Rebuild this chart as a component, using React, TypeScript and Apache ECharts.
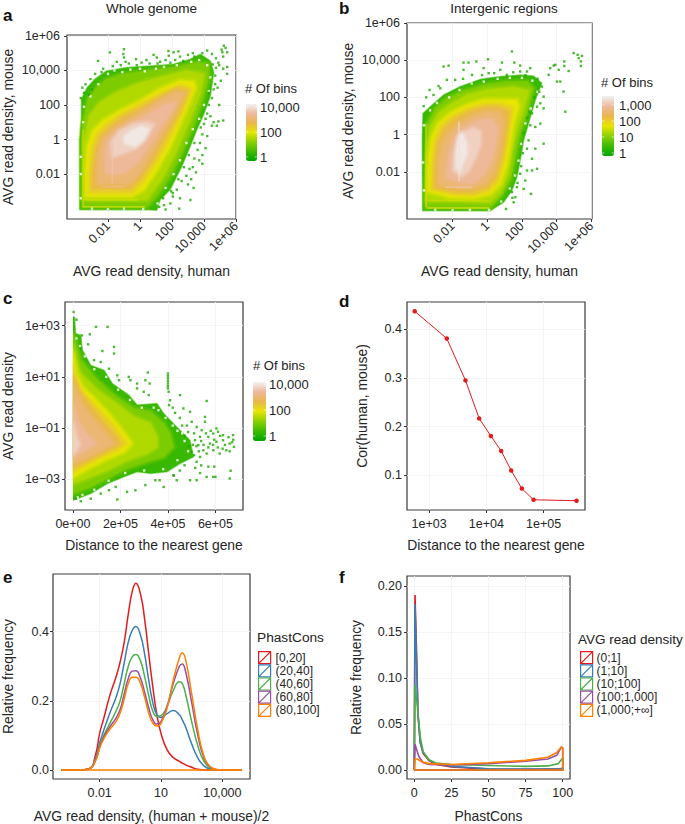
import React, { useEffect, useRef } from "react";
import * as echarts from "echarts";

const FONT = "Liberation Sans";
const INK = "#262626";
const DOT = "#1FA800";
const TERRAIN = ["#00A600", "#3EBB00", "#8BD000", "#E6E600", "#EAB64E", "#EEB99F", "#F2F2F2"];

// ---- Panel a: density contours, [log10 human, log10 mouse], with log10(# of bins) per contour
const A_LEVELS = [0.4, 1.09, 1.55, 2.01, 2.38, 2.75, 3.13, 3.5, 3.87, 4.2, 1.8, 2.0, 1.9, 3.7, 3.5];
const A_CONTOURS: number[][][] = [
  [[-3.77,-4.07],[0.42,-4.07],[1.05,-4.1],[1.26,-3.49],[1.88,-2.91],[2.62,-1.55],[3.14,-0.39],[3.56,0.58],[3.98,1.45],[4.4,2.52],[4.61,3.88],[4.4,4.55],[3.77,4.94],[3.14,4.65],[2.09,4.36],[0.63,4.26],[-0.84,4.17],[-2.09,3.97],[-2.83,3.49],[-3.31,3.0],[-3.66,2.33],[-3.66,1.16],[-3.77,0]],
  [[-3.6,-3.88],[0.42,-3.91],[1.05,-3.29],[1.88,-2.13],[2.62,-0.78],[3.25,0.58],[3.87,2.13],[4.29,3.49],[4.29,4.36],[3.56,4.46],[2.09,4.17],[0.42,3.97],[-1.05,3.78],[-2.09,3.49],[-2.72,3.0],[-3.25,2.33],[-3.56,0.97],[-3.64,0]],
  [[-3.52,-3.49],[0.42,-3.49],[1.47,-2.13],[2.3,-0.58],[3.04,0.97],[3.77,2.71],[3.98,3.78],[2.93,3.97],[1.26,3.59],[-0.21,3.2],[-1.47,2.71],[-2.51,2.13],[-3.14,1.36],[-3.46,0]],
  [[-3.39,-3.29],[-0.52,-3.29],[0.21,-2.91],[1.05,-1.74],[1.88,-0.39],[2.72,1.36],[3.46,3.0],[3.35,3.33],[2.51,3.39],[1.26,2.91],[0,2.23],[-1.26,1.65],[-2.3,1.07],[-2.93,0.48],[-3.25,-0.39],[-3.39,-1.94]],
  [[-3.14,-3.06],[-0.52,-3.06],[0.1,-2.52],[0.94,-1.36],[1.78,0],[2.62,1.55],[3.18,2.91],[2.51,3.14],[1.26,2.62],[0,2.03],[-1.15,1.45],[-2.09,0.87],[-2.68,0.29],[-2.99,-0.58],[-3.14,-1.94]],
  [[-2.93,-2.81],[-0.63,-2.81],[0,-2.23],[0.84,-1.07],[1.57,0.19],[2.41,1.65],[2.93,2.81],[2.3,2.91],[1.26,2.42],[0,1.74],[-1.05,1.26],[-1.88,0.68],[-2.41,0.19],[-2.72,-0.58],[-2.89,-1.74]],
  [[-2.62,-2.52],[-0.73,-2.56],[-0.1,-2.03],[0.63,-0.87],[1.36,0.29],[2.2,1.65],[2.72,2.62],[2.2,2.71],[1.26,2.23],[0.1,1.55],[-0.94,0.97],[-1.78,0.48],[-2.26,0],[-2.55,-0.78]],
  [[-2.09,-1.94],[-1.05,-1.94],[-0.21,-1.36],[0.52,-0.39],[1.15,0.58],[1.88,1.55],[2.2,2.13],[1.47,1.94],[0.42,1.36],[-0.63,0.87],[-1.47,0.39],[-1.99,-0.19],[-2.14,-0.97]],
  [[-1.68,-0.97],[-1.05,-0.78],[-0.21,-0.48],[0.42,0.19],[0.84,0.87],[0.42,0.97],[-0.42,0.87],[-1.26,0.48],[-1.78,-0.19]],
  [[-0.94,-0.19],[-0.31,-0.35],[0.21,0],[0.52,0.58],[0.1,0.72],[-0.52,0.48],[-0.94,0.19]],
  [[-3.6,-3.9],[-3.5,-3.9],[-3.5,0.6],[-3.6,0.6]],
  [[-3.6,-3.95],[0.3,-3.95],[0.3,-3.85],[-3.6,-3.85]],
  [[-3.4,-3.55],[-0.1,-3.55],[-0.1,-3.45],[-3.4,-3.45]],
  [[-1.78,-2.5],[-1.68,-2.5],[-1.68,0.2],[-1.78,0.2]],
  [[-2.4,-2.78],[-0.9,-2.78],[-0.9,-2.68],[-2.4,-2.68]],
];
const A_SOFT = 10;
const A_DOTS = [[-1.88,5.04],[-1,5.23],[-1.04,4.95],[-1,4.75],[-1.45,4.5],[-0.25,4.65],[-0.7,4.4],[-2.62,4.55],[-0.2,4.3],[0.4,4.6],[0.85,4.9],[1.05,4.75],[1.26,4.5],[1.78,5.12],[1.8,4.85],[2.1,5.05],[2.4,5.1],[2.5,4.8],[2.2,4.6],[1.6,4.6],[3,4.9],[3.3,5],[3.9,5],[4.2,5.15],[4.5,4.95],[4.75,4.7],[4.9,4.45],[5.2,4.8],[5.24,5.43],[5.35,5.3],[5.1,5.2],[5.45,5.05],[5.15,5.05],[5.45,4.2],[5.45,3.8],[4.95,4.3],[5.2,4.1],[4.75,4.15],[4.7,3.7],[5.05,3.4],[4.85,3],[4.6,2.9],[4.3,2.7],[4.95,2],[5.2,1.1],[4.9,1.05],[4.6,1],[4.8,0.8],[4.4,1.35],[4.2,1.5],[4.5,0.8],[4,0.9],[4.2,0.2],[3.9,0.3],[3.75,-0.2],[4.1,-0.5],[3.6,-0.6],[3.9,-0.9],[3.4,-1.1],[3.7,-1.2],[3.9,-1.4],[3.3,-1.6],[3.5,-1.9],[3.1,-1.7],[2.9,-2.1],[3.2,-2.3],[3,-2.6],[3.35,-2.8],[2.6,-2.4],[2.3,-2.9],[3.15,-3.5],[2.5,-3.4],[2.45,-4],[2.05,-3.3],[1.9,-3.7],[1.5,-3.8],[1.6,-4.05],[1.2,-3.9],[2.05,-3.1],[-3.6,3],[-3.4,3.2],[-3.1,3.5],[-2.8,3.8],[-2.4,3.9],[-3.5,2.7],[-3.2,2.6],[-3,2.9],[-3.7,2.4],[-2.3,4.1],[-1.7,4.25],[-1.2,4.3],[-0.9,4.5],[0.1,4.45],[0.6,4.4],[1.1,4.4],[1.9,4.45],[2.7,4.55],[3.4,4.8],[4.55,4.35],[4.7,3.2],[4.5,2.4],[4.3,2],[4.1,1.2],[3.8,0.7],[3.4,-0.2],[3.05,-0.9],[2.75,-1.6],[2.4,-2.3],[1.95,-3],[1.45,-3.4]];
const A_GAPS = [[-2,3.8],[-1.6,4],[-1.1,3.9],[-0.6,4.05],[0,4.1],[0.3,3.95],[1,4.1],[1.5,4.2],[2.3,4.3],[3.2,4.5],[3.7,4.6],[4.2,4.3],[4.4,3.6],[4.3,2.8],[4,2],[3.7,1.2],[3.3,0.6],[2.9,-0.2],[2.5,-1.2],[2.1,-2],[1.6,-2.8],[1.1,-3.7],[0.2,-4.02],[-1,-4],[-2,-4.03],[-3,-4],[-3.7,-3.4],[-3.7,-2],[-3.7,-1],[-3.55,1],[-3.5,1.9],[-3.1,2.5],[-2.6,3.2]];

// ---- Panel b
const B_LEVELS = [0.36, 0.92, 1.3, 1.68, 1.98, 2.28, 2.58, 2.88, 3.18, 3.45, 1.6, 1.7, 1.5, 3.35, 3.1];
const B_CONTOURS: number[][][] = [
  [[-3.73,-4.09],[0.17,-4.09],[0.94,-3.64],[1.42,-3.01],[1.71,-2.29],[1.9,-1.39],[2.1,-0.31],[2.38,0.59],[2.77,1.86],[3.15,2.76],[2.67,3.15],[1.9,3.21],[0.75,3.12],[-0.4,2.97],[-1.56,2.58],[-2.52,2.13],[-3.29,1.5],[-3.71,1.14],[-3.75,-0.31]],
  [[-3.58,-3.91],[0.17,-3.95],[0.75,-3.37],[1.33,-2.47],[1.62,-1.21],[1.9,0.05],[2.29,1.14],[2.67,2.49],[2.29,2.85],[1.13,2.85],[-0.21,2.67],[-1.37,2.36],[-2.33,1.95],[-3,1.41],[-3.44,0.59]],
  [[-3.52,-3.55],[0.17,-3.64],[0.75,-3.1],[1.23,-2.11],[1.42,-0.85],[1.71,0.23],[2.1,1.32],[2.38,2.36],[1.52,2.54],[-0.02,2.4],[-1.17,2.13],[-2.04,1.68],[-2.81,1.14],[-3.29,0.41],[-3.44,-0.67]],
  [[-3.42,-3.05],[-2.13,-3.37],[-0.79,-3.41],[0.17,-3.19],[0.75,-2.65],[1.13,-1.57],[1.33,-0.49],[1.52,0.59],[1.81,1.5],[1.71,1.86],[0.94,1.86],[-0.21,1.86],[-1.17,1.59],[-2.13,1.14],[-2.81,0.59],[-3.19,-0.13],[-3.38,-1.39]],
  [[-3.19,-2.92],[-1.94,-3.19],[-0.79,-3.23],[0.08,-3.01],[0.6,-2.47],[0.94,-1.39],[1.13,-0.31],[1.29,0.59],[1.42,1.41],[0.75,1.64],[-0.21,1.62],[-1.17,1.35],[-2.04,0.95],[-2.62,0.45],[-3,-0.31],[-3.15,-1.57]],
  [[-3,-2.83],[-1.75,-3.05],[-0.79,-3.05],[-0.02,-2.79],[0.46,-2.29],[0.79,-1.21],[0.98,-0.31],[1.13,0.59],[1.19,1.23],[0.56,1.46],[-0.21,1.41],[-1.08,1.17],[-1.85,0.77],[-2.42,0.32],[-2.81,-0.4],[-2.96,-1.57]],
  [[-2.77,-2.65],[-1.56,-2.83],[-0.79,-2.83],[-0.12,-2.61],[0.37,-1.93],[0.65,-1.03],[0.79,-0.13],[0.9,0.59],[0.75,1.14],[-0.02,1.21],[-0.88,0.95],[-1.65,0.5],[-2.23,0.05],[-2.58,-0.58],[-2.75,-1.57]],
  [[-2.33,-2.29],[-1.56,-2.56],[-0.79,-2.56],[-0.21,-2.11],[0.21,-1.39],[0.46,-0.49],[0.56,0.32],[0.27,0.81],[-0.4,0.77],[-1.08,0.5],[-1.65,0.14],[-2.04,-0.49],[-2.27,-1.39]],
  [[-1.94,-1.93],[-1.46,-2.2],[-1.08,-1.93],[-0.69,-1.21],[-0.4,-0.49],[-0.4,0.14],[-0.79,0.32],[-1.27,0.14],[-1.65,-0.31],[-1.9,-1.12]],
  [[-1.75,-1.75],[-1.6,-1.93],[-1.46,-1.57],[-1.21,-1.03],[-1.21,-0.49],[-1.46,0.05],[-1.65,-0.13],[-1.75,-0.85]],
  [[-3.58,-3.9],[-3.48,-3.9],[-3.48,0.6],[-3.58,0.6]],
  [[-3.5,-4.0],[0.1,-4.0],[0.1,-3.9],[-3.5,-3.9]],
  [[-3.4,-3.6],[0,-3.6],[0,-3.5],[-3.4,-3.5]],
  [[-1.68,-2.5],[-1.58,-2.5],[-1.58,0.7],[-1.68,0.7]],
  [[-2.4,-2.88],[-0.9,-2.88],[-0.9,-2.78],[-2.4,-2.78]],
];
const B_SOFT = 10;
const B_DOTS = [[1.42,4.47],[4.98,4.38],[5.21,4.29],[5.46,4.23],[5.27,4.11],[5.4,3.93],[5.4,3.69],[3.63,3.57],[3.83,3.71],[3.92,3.75],[4.12,3.48],[4.44,3.93],[4.44,3.69],[4.69,3.42],[-2.23,3.71],[-2.52,3.66],[-1.37,3.87],[-1.08,3.87],[-0.63,3.93],[0.04,4.05],[0.85,3.87],[1.56,3.87],[1.9,3.71],[2.48,3.57],[0.75,3.48],[-0.21,3.57],[0.08,3.3],[-1.37,3.48],[1.9,3.39],[2.29,3.39],[1.13,3.21],[3.54,3.21],[4.02,2.85],[4.21,2.85],[4.4,2.31],[4.5,1.23],[3.15,2.58],[3.25,2.04],[3.06,1.68],[2.87,1.5],[3.25,1.41],[2.58,1.14],[3.06,0.59],[2.77,0.41],[2.48,0.5],[3.25,-0.49],[2.77,-0.76],[2.38,-0.31],[2.29,-0.76],[2.58,-1.3],[2.87,-1.84],[2.58,-1.93],[2.29,-1.93],[2.19,-2.47],[2.52,-3.19],[2.1,-2.92],[1.62,-3.37],[1.52,-3.64],[1.08,-4],[1.42,-3.1],[1.71,-2.83],[1.9,-2.11],[-2.81,2.61],[-3.33,2.4],[-3.52,2],[-3.1,2.13],[-3.67,1.53],[-2.71,2.49],[-2.33,2.94],[-1.85,2.94],[-0.88,3.21],[-1.4,3],[-0.3,3.2],[0.4,3.3],[1.5,3.35],[2.2,3.2],[2.9,3],[3,2.3],[2.7,2],[2.45,1.2],[2.3,0.9],[2.1,0.1],[2.05,-1],[1.95,-1.7],[1.75,-2.6],[1.45,-3.4]];
const B_GAPS = [[-2.2,2],[-1.6,2.4],[-0.9,2.75],[-0.2,2.85],[0.6,3],[1.3,3.05],[2,3.05],[2.6,2.9],[2.9,2.3],[2.5,1.4],[2.2,0.6],[1.95,-0.5],[1.8,-1.4],[1.6,-2.2],[1.3,-2.9],[0.8,-3.6],[0.1,-4.05],[-1,-4.05],[-2,-4.07],[-3,-4.05],[-3.65,-3],[-3.7,-1.5],[-3.65,0.5],[-3.3,1.3],[-2.9,1.7]];

// ---- Panel c: [distance / 1e5, log10 density]
const C_LEVELS = [0.37, 1.05, 1.51, 1.96, 2.32, 2.69, 3.05, 3.41, 3.78];
const C_CONTOURS: number[][][] = [
  [[0,3.34],[0.07,3.34],[0.11,2.69],[0.33,2.62],[0.4,2.04],[0.75,1.45],[1.31,1.26],[1.66,0.74],[2.35,0.29],[2.7,-0.1],[3.54,-0.04],[3.82,-0.43],[4.37,-0.95],[4.93,-1.47],[5.07,-2.12],[4.51,-2.38],[3.96,-2.7],[3.26,-2.77],[2.7,-2.7],[2.14,-2.9],[1.45,-3.16],[0.75,-3.55],[0,-3.81]],
  [[0,2.69],[0.13,2.3],[0.33,1.65],[1.03,0.87],[1.73,0.29],[2.56,-0.23],[3.26,-0.36],[3.82,-0.82],[4.09,-1.21],[4.23,-1.73],[3.82,-2.12],[3.12,-2.31],[2.28,-2.57],[1.45,-2.96],[0.75,-3.29],[0,-3.55]],
  [[0,2.17],[0.13,1.65],[0.33,1.13],[1.03,0.48],[1.73,0.03],[2.56,-0.56],[3.26,-0.82],[3.54,-1.34],[3.54,-1.73],[3.12,-1.99],[2.28,-2.25],[1.45,-2.64],[0.75,-2.9],[0,-3.16]],
  [[0,1.91],[0.13,1.13],[0.4,0.61],[1.03,0.03],[1.73,-0.69],[2.28,-1.34],[2.47,-1.6],[2.14,-1.92],[1.45,-2.18],[0.75,-2.51],[0,-2.9]],
  [[0,1.39],[0.13,0.87],[0.47,0.29],[1.03,-0.23],[1.66,-0.88],[2.14,-1.47],[2.21,-1.6],[1.87,-1.83],[1.31,-2.05],[0.61,-2.38],[0,-2.7]],
  [[0,1],[0.26,0.42],[0.68,-0.1],[1.17,-0.69],[1.73,-1.27],[1.94,-1.6],[1.59,-1.79],[1.03,-2.05],[0.47,-2.31],[0,-2.51]],
  [[0,0.74],[0.26,0.09],[0.68,-0.49],[1.17,-1.01],[1.59,-1.47],[1.73,-1.6],[1.31,-1.79],[0.75,-2.05],[0.26,-2.25],[0,-2.38]],
  [[0,-0.04],[0.19,-0.69],[0.54,-1.21],[0.96,-1.6],[0.61,-1.79],[0.26,-1.99],[0,-2.12]],
  [[0,-0.82],[0.13,-1.34],[0.26,-1.6],[0.13,-1.86],[0,-1.99]],
];
const C_SOFT = 9;
const C_DOTS = [[0.03,3.53],[0.15,3.23],[0.97,2.95],[1.46,2.95],[0.71,2.66],[0.38,2.62],[0.64,2.27],[0.33,2.1],[1.24,2.01],[1.73,2.17],[1.73,1.91],[0.89,1.65],[1.17,1.58],[1.52,1.32],[1.87,1.06],[1.94,0.87],[2.35,1],[2.42,0.87],[2.7,0.74],[2.7,0.55],[3.15,1.17],[3.05,0.87],[3.23,0.74],[2.98,0.42],[3.19,0.29],[4,1.13],[4,1.03],[4,0.94],[4,0.84],[4,0.74],[4,0.64],[4,0.55],[4.03,0.42],[4.51,0.29],[4.09,0.09],[5.63,0.06],[5.56,-0.56],[5.56,-0.75],[4.65,-0.23],[4.93,-0.36],[5.21,-0.95],[5.42,-1.08],[6.04,-1.01],[6.11,-1.14],[6.32,-1.27],[6.74,-1.27],[5.91,-1.21],[5.7,-1.34],[5.35,-1.34],[5.14,-1.47],[5.28,-1.66],[5.49,-1.86],[5.77,-1.6],[6.04,-1.53],[6.32,-1.47],[6.6,-1.6],[6.78,-1.73],[6.46,-1.86],[6.18,-1.99],[5.91,-1.86],[5.63,-1.99],[5.35,-2.12],[5.21,-2.31],[5,-1.92],[5.1,-1.2],[5.2,-1.7],[5.4,-1.5],[5.6,-1.2],[5.8,-1.1],[5.95,-1.45],[6.2,-1.3],[6.4,-1.65],[6.55,-1.35],[6.7,-1.55],[5.5,-1.65],[5.7,-1.75],[5.9,-1.65],[6.1,-1.75],[6.3,-1.8],[6.6,-1.9],[6.75,-1.45],[5.3,-1.9],[5.05,-1.65],[4.9,-1.7],[4.7,-1.3],[4.6,-0.9],[4.8,-0.9],[5,-0.75],[4.85,-1.15],[4.5,-0.6],[4.3,-0.4],[4.05,-0.1],[4.2,-0.2],[5.1,-2.05],[5.4,-2.45],[5.7,-2.5],[5.95,-2.5],[5.15,-2.55],[4.7,-2.45],[4.5,-2.65],[4.25,-2.85],[5.35,-2.75],[1.87,-3.78],[0.75,-3.75],[0.33,-3.85],[0.12,-3.75],[1.17,-3.55],[1.52,-3.42],[1.8,-3.29],[2.28,-3.48],[2.63,-3.42],[3.05,-3.22],[3.47,-3.03],[3.82,-3.29],[3.65,-3.03],[4.23,-2.83],[4.37,-3.03],[4.93,-3.03],[5.21,-3.03],[5.91,-2.9],[6.6,-2.96],[6.64,-2.66],[5.63,-2.9],[6,-2.9]];
const C_GAPS = [[0.5,1.8],[0.9,1.3],[1.4,1],[1.9,0.5],[2.4,0.1],[2.9,-0.2],[3.4,-0.2],[3.9,-0.6],[4.4,-1.1],[4.7,-1.5],[4.85,-1.9],[4.4,-2.25],[3.8,-2.6],[3,-2.65],[2.2,-2.75],[1.5,-3.05],[0.9,-3.4],[0.4,-3.6],[0.2,-3.7],[0.3,2.2],[0.15,2.5],[4.6,-1.2],[4.2,-0.9],[3.6,-0.3],[2.7,0.1]];

// ---- Panel d
const D_DISTANCE = [562, 2040, 4325, 7500, 12000, 18200, 27200, 41700, 66800, 377000];
const D_COR = [0.437, 0.381, 0.295, 0.217, 0.181, 0.15, 0.11, 0.073, 0.05, 0.048];

// ---- Panel e: x is log10 of AVG read density
const E_X = [-3.87,-3,-2.5,-2.2,-2,-1.8,-1.5,-1.2,-1,-0.8,-0.6,-0.4,-0.23,0,0.2,0.4,0.6,0.8,1,1.3,1.6,1.9,2.04,2.2,2.5,2.8,3.1,3.4,3.7,4,4.95];
const E_0_20 = [0,0,0.004,0.044,0.106,0.149,0.216,0.269,0.312,0.369,0.451,0.518,0.54,0.508,0.436,0.336,0.24,0.159,0.106,0.058,0.036,0.025,0.02,0.015,0.008,0.002,0,0,0,0,0];
const E_20_40 = [0,0,0.004,0.035,0.078,0.115,0.165,0.21,0.25,0.31,0.37,0.405,0.415,0.39,0.335,0.26,0.195,0.16,0.152,0.163,0.172,0.16,0.145,0.125,0.075,0.035,0.012,0.003,0,0,0];
const E_40_60 = [0,0,0.004,0.03,0.07,0.1,0.135,0.17,0.2,0.25,0.3,0.328,0.334,0.315,0.27,0.215,0.17,0.155,0.157,0.185,0.23,0.255,0.25,0.22,0.14,0.07,0.025,0.006,0.001,0,0];
const E_60_80 = [0,0,0.004,0.028,0.065,0.095,0.125,0.15,0.175,0.22,0.265,0.286,0.287,0.265,0.225,0.18,0.145,0.133,0.14,0.185,0.25,0.3,0.307,0.285,0.195,0.1,0.035,0.009,0.001,0,0];
const E_80_100 = [0,0,0.004,0.027,0.063,0.09,0.118,0.14,0.165,0.205,0.25,0.268,0.268,0.25,0.21,0.165,0.135,0.127,0.135,0.18,0.26,0.325,0.339,0.32,0.22,0.115,0.04,0.01,0.002,0,0];
const E_BASELINE = [[-3.87,0],[4.95,0]];
const E_NAMES = ["[0,20]", "(20,40]", "(40,60]", "(60,80]", "(80,100]"];

// ---- Panel f: [PhastCons, relative frequency]
const F_0_1 = [[0,0],[0.5,0.19],[1.5,0.13],[2.5,0.06],[4,0.03],[6,0.018],[10,0.01],[15,0.006],[25,0.0035],[50,0.001],[75,0.0007],[98,0.001],[100,0.002],[100,0],[0,0]];
const F_1_10 = [[0,0],[0.5,0.18],[1.5,0.12],[2.5,0.06],[4,0.03],[6,0.019],[10,0.011],[15,0.007],[25,0.004],[50,0.0015],[75,0.001],[98,0.0015],[100,0.002],[100,0],[0,0]];
const F_10_100 = [[0,0],[0.5,0.092],[2,0.07],[4,0.036],[6,0.02],[10,0.011],[15,0.0075],[25,0.006],[50,0.005],[75,0.004],[90,0.0045],[97,0.007],[100,0.013],[100,0],[0,0]];
const F_100_1000 = [[0,0],[0.5,0.028],[3,0.015],[6,0.008],[10,0.006],[25,0.0055],[50,0.007],[75,0.0095],[90,0.012],[96,0.016],[99,0.025],[100,0.024],[100,0],[0,0]];
const F_1000_INF = [[0,0],[0.5,0.012],[2,0.012],[5,0.009],[10,0.007],[25,0.006],[50,0.008],[75,0.0105],[90,0.014],[96,0.019],[99,0.025],[100,0.024],[100,0],[0,0]];
const F_NAMES = ["(0;1]", "(1;10]", "(10;100]", "(100;1,000]", "(1,000;+\u221e]"];

const SET1 = ["#E41A1C", "#377EB8", "#4DAF4A", "#984EA3", "#FF7F00"];

// ---- Tick labels
const DECADE_LABELS: Record<string, string> = { "-2": "0.01", "0": "1", "2": "100", "4": "10,000", "6": "1e+06" };
const DECADE_TICKS = [-2, 0, 2, 4, 6];
const C_X_LABELS: Record<string, string> = { "0": "0e+00", "2": "2e+05", "4": "4e+05", "6": "6e+05" };
const C_Y_LABELS: Record<string, string> = { "3": "1e+03", "1": "1e+01", "-1": "1e\u221201", "-3": "1e\u221203" };
const D_X_LABELS: Record<string, string> = { "3": "1e+03", "4": "1e+04", "5": "1e+05" };
const E_X_LABELS: Record<string, string> = { "-2": "0.01", "1": "10", "4": "10,000" };

const LEGEND_ICON = "path://M0 0L16 0L16 16L0 16Z M0 16L16 0";

function axis(o: {
  gridIndex: number; min: number; max: number; ticks: number[]; grid: number[];
  fmt: (v: number) => string; name: string; gap: number; rotate?: number; margin?: number;
}) {
  return {
    type: "value", gridIndex: o.gridIndex, min: o.min, max: o.max, name: o.name,
    nameLocation: "middle", nameGap: o.gap,
    nameTextStyle: { fontFamily: FONT, fontSize: 13.9, color: INK },
    axisLine: { show: false, onZero: false },
    axisTick: { show: true, length: 3, customValues: o.ticks, lineStyle: { color: "#333", width: 1 } },
    axisLabel: { show: true, customValues: o.ticks, formatter: o.fmt, rotate: o.rotate ?? 0, margin: o.margin ?? 5,
      fontFamily: FONT, fontSize: 12.5, color: INK, hideOverlap: false },
    splitLine: { show: true, customValues: o.grid, lineStyle: { color: "#f1f1f1", width: 0.8 } },
  };
}

// Each contour is painted with two translucent halos so neighbouring density bands blend.
const polyRenderer = (contours: number[][][], soft: number, clipLeftAt?: number) => (params: any, api: any) => {
  const i = params.dataIndex;
  const points = contours[i].map((p) => api.coord(p));
  const color = api.visual("color");
  const shape = { points };
  const children: any[] = [];
  if (i >= soft) {
    children.push({ type: "polygon", shape, style: { fill: color, opacity: 0.6 }, silent: true });
  } else if (i === 0) {
    children.push({ type: "polygon", shape, style: { fill: color, stroke: color, strokeOpacity: 0.5, lineWidth: 1.5, lineJoin: "round" }, silent: true });
  } else {
    children.push({ type: "polygon", shape, style: { fill: "none", stroke: color, strokeOpacity: 0.25, lineWidth: 7, lineJoin: "round" }, silent: true });
    children.push({ type: "polygon", shape, style: { fill: "none", stroke: color, strokeOpacity: 0.35, lineWidth: 4, lineJoin: "round" }, silent: true });
    children.push({ type: "polygon", shape, style: { fill: color, stroke: color, strokeOpacity: 0.5, lineWidth: 1.5, lineJoin: "round" }, silent: true });
  }
  const group: any = { type: "group", silent: true, children };
  if (clipLeftAt !== undefined) {
    const [x0, y0] = api.coord([clipLeftAt, api.value(3)]);
    const size = api.size([1, 1]);
    group.clipPath = { type: "rect", shape: { x: x0, y: 0, width: 400, height: 2000 } };
    void y0; void size;
  }
  return group;
};

function densitySeries(contours: number[][][], levels: number[], gridIndex: number, soft: number, clipLeftAt?: number) {
  return {
    type: "custom", xAxisIndex: gridIndex, yAxisIndex: gridIndex, silent: true, clip: true,
    renderItem: polyRenderer(contours, soft, clipLeftAt),
    data: levels.map((l) => [0, 0, l, 0]),
  };
}
const dotSeries = (dots: number[][], gridIndex: number, color = DOT) => ({
  type: "scatter", xAxisIndex: gridIndex, yAxisIndex: gridIndex, silent: true,
  symbol: "rect", symbolSize: 2.4, itemStyle: { color }, data: dots,
});
const colorbar = (seriesIndex: number, min: number, max: number, left: number, top: number, w: number, h: number) => ({
  type: "continuous", seriesIndex, dimension: 2, min, max, left, top, itemWidth: w, itemHeight: h,
  padding: 0, calculable: false, showLabel: false, hoverLink: false, text: ["", ""], inRange: { color: TERRAIN },
});
const txt = (x: number, y: number, text: string, size: number, extra: any = {}) => ({
  type: "text", x, y, z: 50, silent: true,
  style: { text, fontFamily: FONT, fontSize: size, fill: "#222", verticalAlign: "middle", ...extra },
});
const barTick = (x: number, y: number, w: number) => [
  { type: "line", z: 50, silent: true, shape: { x1: x, y1: y, x2: x + 2.4, y2: y }, style: { stroke: "#fff", lineWidth: 0.6 } },
  { type: "line", z: 50, silent: true, shape: { x1: x + w - 2.4, y1: y, x2: x + w, y2: y }, style: { stroke: "#fff", lineWidth: 0.6 } },
];

export default function App() {
  const ref = useRef<HTMLDivElement>(null);
  useEffect(() => {
    document.body.style.margin = "0";
    const chart = echarts.init(ref.current!, undefined, { renderer: "svg" });
    const frame = { show: true, borderColor: "#3a3a3a", borderWidth: 1.2, backgroundColor: "#fff", containLabel: false };
    const decFmt = (v: number) => DECADE_LABELS[String(v)] ?? "";
    const minors = [-3, -1, 1, 3, 5];
    const option: any = {
      animation: false,
      backgroundColor: "#fff",
      textStyle: { fontFamily: FONT },
      grid: [
        { ...frame, left: 67, top: 35, width: 169, height: 184 },
        { ...frame, left: 407, top: 23, width: 185, height: 196 },
        { ...frame, left: 64, top: 302, width: 179, height: 208 },
        { ...frame, left: 407, top: 302, width: 178, height: 208 },
        { ...frame, left: 52, top: 574, width: 198, height: 207 },
        { ...frame, left: 407, top: 576, width: 163, height: 205 },
      ],
      xAxis: [
        axis({ gridIndex: 0, min: -4.56, max: 6, ticks: DECADE_TICKS, grid: [...DECADE_TICKS, ...minors], fmt: decFmt, name: "AVG read density, human", gap: 45, rotate: 45 }),
        axis({ gridIndex: 1, min: -4.63, max: 6.04, ticks: DECADE_TICKS, grid: [...DECADE_TICKS, ...minors], fmt: decFmt, name: "AVG read density, human", gap: 45, rotate: 45 }),
        axis({ gridIndex: 2, min: -0.334, max: 7.16, ticks: [0, 2, 4, 6], grid: [0, 1, 2, 3, 4, 5, 6, 7], fmt: (v) => C_X_LABELS[String(v)] ?? "", name: "Distance to the nearest gene", gap: 28, margin: 7 }),
        axis({ gridIndex: 3, min: 2.615, max: 5.723, ticks: [3, 4, 5], grid: [3, 3.5, 4, 4.5, 5, 5.5], fmt: (v) => D_X_LABELS[String(v)] ?? "", name: "Distance to the nearest gene", gap: 28, margin: 7 }),
        axis({ gridIndex: 4, min: -4.28, max: 5.35, ticks: [-2, 1, 4], grid: [-3.5, -2, -0.5, 1, 2.5, 4], fmt: (v) => E_X_LABELS[String(v)] ?? "", name: "AVG read density, (human + mouse)/2", gap: 30, margin: 7 }),
        axis({ gridIndex: 5, min: -4.9, max: 104.9, ticks: [0, 25, 50, 75, 100], grid: [0, 12.5, 25, 37.5, 50, 62.5, 75, 87.5, 100], fmt: (v) => String(v), name: "PhastCons", gap: 30, margin: 7 }),
      ],
      yAxis: [
        axis({ gridIndex: 0, min: -4.6, max: 6.05, ticks: DECADE_TICKS, grid: [...DECADE_TICKS, ...minors], fmt: decFmt, name: "AVG read density, mouse", gap: 52, margin: 7 }),
        axis({ gridIndex: 1, min: -4.54, max: 6, ticks: DECADE_TICKS, grid: [...DECADE_TICKS, ...minors], fmt: decFmt, name: "AVG read density, mouse", gap: 52, margin: 7 }),
        axis({ gridIndex: 2, min: -4.19, max: 3.92, ticks: [-3, -1, 1, 3], grid: [-3, -2, -1, 0, 1, 2, 3], fmt: (v) => C_Y_LABELS[String(v)] ?? "", name: "AVG read density", gap: 50, margin: 5 }),
        axis({ gridIndex: 3, min: 0.029, max: 0.456, ticks: [0.1, 0.2, 0.3, 0.4], grid: [0.05, 0.1, 0.15, 0.2, 0.25, 0.3, 0.35, 0.4, 0.45], fmt: (v) => v.toFixed(1), name: "Cor(human, mouse)", gap: 38, margin: 5 }),
        axis({ gridIndex: 4, min: -0.026, max: 0.567, ticks: [0, 0.2, 0.4], grid: [0, 0.1, 0.2, 0.3, 0.4, 0.5], fmt: (v) => v.toFixed(1), name: "Relative frequency", gap: 38, margin: 4 }),
        axis({ gridIndex: 5, min: -0.0097, max: 0.2107, ticks: [0, 0.05, 0.1, 0.15, 0.2], grid: [0, 0.025, 0.05, 0.075, 0.1, 0.125, 0.15, 0.175, 0.2], fmt: (v) => v.toFixed(2), name: "Relative frequency", gap: 44, margin: 5 }),
      ],
      visualMap: [
        colorbar(0, -0.32, 4.33, 246, 104, 11, 57),
        colorbar(3, -0.21, 3.56, 602, 96, 12, 60),
        colorbar(6, -0.31, 4.23, 253, 382, 13, 59),
      ],
      legend: [
        { left: 258, top: 651, orient: "vertical", itemGap: 0, itemWidth: 12, itemHeight: 12, padding: 0, selectedMode: false,
          icon: LEGEND_ICON, textStyle: { fontFamily: FONT, fontSize: 12, color: INK, padding: [0, 0, 0, 0], lineHeight: 13 },
          data: E_NAMES.map((name, i) => ({ name, itemStyle: { color: "transparent", borderColor: SET1[i], borderWidth: 1.2 }, lineStyle: { width: 0 } })) },
        { left: 580, top: 651, orient: "vertical", itemGap: 0, itemWidth: 12, itemHeight: 12, padding: 0, selectedMode: false,
          icon: LEGEND_ICON, textStyle: { fontFamily: FONT, fontSize: 12, color: INK, padding: [0, 0, 0, -1], lineHeight: 13 },
          data: F_NAMES.map((name, i) => ({ name, itemStyle: { color: "transparent", borderColor: SET1[i], borderWidth: 1.2 }, lineStyle: { width: 0 } })) },
      ],
      series: [
        densitySeries(A_CONTOURS, A_LEVELS, 0, A_SOFT),
        dotSeries(A_GAPS, 0, "#ffffff"),
        dotSeries(A_DOTS, 0),
        densitySeries(B_CONTOURS, B_LEVELS, 1, B_SOFT),
        dotSeries(B_GAPS, 1, "#ffffff"),
        dotSeries(B_DOTS, 1),
        densitySeries(C_CONTOURS, C_LEVELS, 2, C_SOFT, 0),
        dotSeries(C_GAPS, 2, "#ffffff"),
        dotSeries(C_DOTS, 2),
        { type: "line", xAxisIndex: 3, yAxisIndex: 3, silent: true, symbol: "circle", symbolSize: 4.5,
          lineStyle: { color: SET1[0], width: 1 }, itemStyle: { color: SET1[0] },
          data: D_DISTANCE.map((d, i) => [Math.log10(d), D_COR[i]]) },
        ...[E_0_20, E_20_40, E_40_60, E_60_80, E_80_100].map((ys, i) => ({
          type: "line", name: E_NAMES[i], xAxisIndex: 4, yAxisIndex: 4, silent: true, showSymbol: false, symbol: "none",
          smooth: 0.5, lineStyle: { color: SET1[i], width: 1.5 }, itemStyle: { color: SET1[i] },
          data: E_X.map((x, j) => [x, ys[j]]),
        })),
        { type: "line", xAxisIndex: 4, yAxisIndex: 4, silent: true, symbol: "none", lineStyle: { color: SET1[4], width: 1.5 }, data: E_BASELINE },
        ...[F_0_1, F_1_10, F_10_100, F_100_1000, F_1000_INF].map((pts, i) => ({
          type: "line", name: F_NAMES[i], xAxisIndex: 5, yAxisIndex: 5, silent: true, symbol: "none",
          lineStyle: { color: SET1[i], width: 1.6 }, itemStyle: { color: SET1[i] }, data: pts,
        })),
      ],
      graphic: [
        txt(3, 15, "a", 17, { fontWeight: "bold", fill: "#111" }),
        txt(339, 8, "b", 17, { fontWeight: "bold", fill: "#111" }),
        txt(3, 298, "c", 17, { fontWeight: "bold", fill: "#111" }),
        txt(339, 301, "d", 17, { fontWeight: "bold", fill: "#111" }),
        txt(3, 577, "e", 17, { fontWeight: "bold", fill: "#111" }),
        txt(339, 577, "f", 17, { fontWeight: "bold", fill: "#111" }),
        txt(151.5, 8, "Whole genome", 13.5, { align: "center" }),
        txt(504, 8, "Intergenic regions", 13.5, { align: "center" }),
        txt(245, 88, "# Of bins", 13),
        txt(260, 107, "10,000", 13), txt(260, 132, "100", 13), txt(260, 157, "1", 13),
        txt(601, 82, "# Of bins", 13),
        txt(619, 105, "1,000", 13), txt(619, 121, "100", 13), txt(619, 137, "10", 13), txt(619, 153, "1", 13),
        txt(253, 365, "# Of bins", 13),
        txt(269, 384, "10,000", 13), txt(269, 410, "100", 13), txt(269, 436, "1", 13),
        txt(257, 637, "PhastCons", 13.7),
        txt(578, 639, "AVG read density", 13.5),
        ...barTick(246, 107, 11), ...barTick(246, 132, 11), ...barTick(246, 157, 11),
        ...barTick(602, 105, 12), ...barTick(602, 121, 12), ...barTick(602, 137, 12), ...barTick(602, 153, 12),
        ...barTick(253, 384, 13), ...barTick(253, 410, 13), ...barTick(253, 436, 13),
      ],
    };
    chart.setOption(option);
    return () => chart.dispose();
  }, []);
  return <div ref={ref} style={{ position: "absolute", left: 0, top: 0, width: 685, height: 824 }} />;
}
